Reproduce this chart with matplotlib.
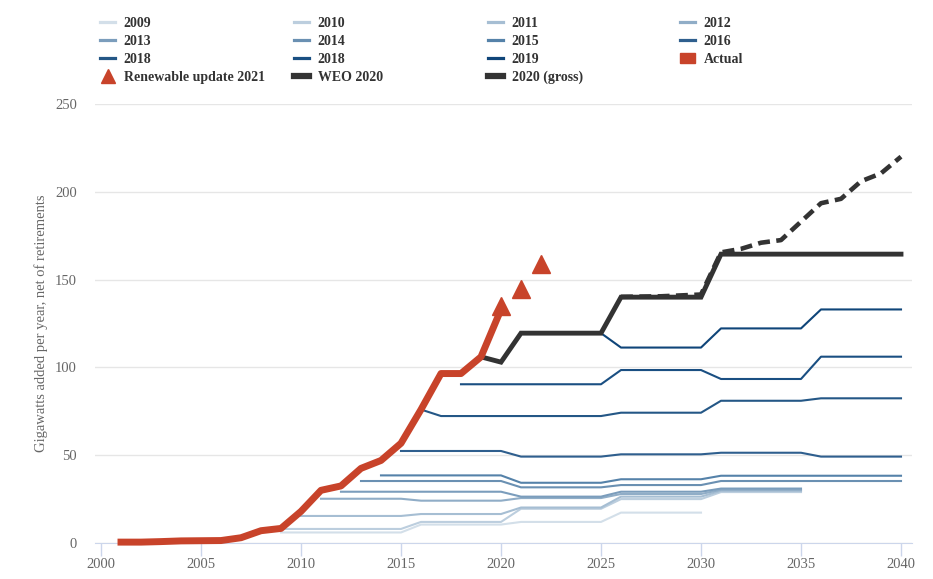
import numpy as np
import matplotlib
matplotlib.use("Agg")
import matplotlib.pyplot as plt
from matplotlib.lines import Line2D
from matplotlib.patches import Patch

plt.rcParams['font.family'] = ['Liberation Serif', 'DejaVu Serif']

# actual additions
years_actual = [2001, 2002, 2003, 2004, 2005, 2006, 2007, 2008, 2009, 2010,
                2011, 2012, 2013, 2014, 2015, 2016, 2017, 2018, 2019, 2020]
actual = [0.5, 0.5, 0.8, 1.2, 1.3, 1.4, 3, 7, 8.3, 18,
          30, 32.5, 42.5, 47, 56.8, 76, 96.5, 96.5, 106, 133]

# renewable update 2021
years_update = [2020, 2021, 2022]
update = [135, 144.6, 159]

# WEO 2020 and gross
years_weo = [2019, 2020, 2021, 2025, 2026, 2030, 2031, 2040]
weo2020 = [106, 103, 119.5, 119.5, 140, 140, 164.5, 164.5]
years_gross = [2026, 2028, 2029, 2030, 2031, 2032, 2033, 2034, 2035, 2036, 2037, 2038, 2039, 2040]
gross = [140.2, 140.5, 141, 141.5, 165.5, 167.5, 171, 172.5, 183, 193.5, 196, 206, 210.5, 220]

# past WEO projections
labels_proj = ['2009', '2010', '2011', '2012', '2013', '2014', '2015', '2016', '2018', '2018', '2019']
years_proj = [
    [2009, 2015, 2016, 2020, 2021, 2025, 2026, 2030],
    [2009, 2015, 2016, 2020, 2021, 2025, 2026, 2030, 2031, 2035],
    [2010, 2015, 2016, 2020, 2021, 2025, 2026, 2030, 2031, 2035],
    [2011, 2015, 2016, 2020, 2021, 2025, 2026, 2030, 2031, 2035],
    [2012, 2020, 2021, 2025, 2026, 2030, 2031, 2035],
    [2013, 2020, 2021, 2025, 2026, 2030, 2031, 2040],
    [2014, 2020, 2021, 2025, 2026, 2030, 2031, 2040],
    [2015, 2020, 2021, 2025, 2026, 2030, 2031, 2035, 2036, 2040],
    [2016, 2017, 2025, 2026, 2030, 2031, 2035, 2036, 2040],
    [2018, 2025, 2026, 2030, 2031, 2035, 2036, 2040],
    [2021, 2025, 2026, 2030, 2031, 2035, 2036, 2040],
]
vals_proj = [
    [6, 6, 10.5, 10.5, 12, 12, 17.3, 17.3],
    [8, 8, 12, 12, 19.5, 19.5, 25, 25, 29, 29],
    [15.4, 15.4, 16.5, 16.5, 20.2, 20.2, 26.4, 26.4, 29.7, 29.7],
    [25.2, 25.2, 24.1, 24.1, 25.6, 25.6, 27.9, 27.9, 30.3, 30.3],
    [29.2, 29.2, 26.4, 26.4, 29.2, 29.2, 31, 31],
    [35.3, 35.3, 31.7, 31.7, 33, 33, 35.3, 35.3],
    [38.5, 38.5, 34.3, 34.3, 36.3, 36.3, 38.3, 38.3],
    [52.4, 52.4, 49.2, 49.2, 50.5, 50.5, 51.4, 51.4, 49.2, 49.2],
    [76, 72.3, 72.3, 74.2, 74.2, 81, 81, 82.4, 82.4],
    [90.4, 90.4, 98.5, 98.5, 93.4, 93.4, 106.1, 106.1],
    [119.5, 119.5, 111.3, 111.3, 122.2, 122.2, 133, 133],
]
colors_proj = ['#d3dfe9', '#bccede', '#a6bed3', '#90adc7', '#7b9dbc', '#6a90b2',
               '#5582a9', '#2f5f8e', '#245786', '#1a4f82', '#0f4579']

red = '#c8432a'
dark = '#333333'
gray = '#666666'

fig = plt.figure(figsize=(9.33, 5.79), dpi=100)
ax = fig.add_axes([95/933, 1-543/579, (912-95)/933, (543-104)/579])

for i in range(len(labels_proj)):
    ax.plot(years_proj[i], vals_proj[i], color=colors_proj[i], lw=1.5, zorder=2)

ax.plot(years_gross, gross, color=dark, lw=3.3, ls=(0, (2.6, 1.4)), zorder=3)
ax.plot(years_weo, weo2020, color=dark, lw=3.5, zorder=4, solid_joinstyle='miter')
ax.plot(years_actual, actual, color=red, lw=5, zorder=5, clip_on=False)
ax.plot(years_update, update, ls='none', marker='^', ms=13.5, color=red, zorder=6)

ax.set_xlim(2000 - 6/20, 2040 + 11/20)
ax.set_ylim(0, 250)
ax.set_xticks(range(2000, 2041, 5))
ax.set_yticks(range(0, 251, 50))
ax.grid(axis='y', color='#e6e6e6', lw=1)
ax.set_axisbelow(True)
for s in ['top', 'right', 'left']:
    ax.spines[s].set_visible(False)
ax.spines['bottom'].set_color('#ccd6eb')
ax.tick_params(axis='x', colors='#ccd6eb', length=9, width=1, labelcolor=gray, labelsize=10.5, pad=2)
ax.tick_params(axis='y', length=0, labelcolor=gray, labelsize=10.5, pad=13)
ax.set_ylabel('Gigawatts added per year, net of retirements', color=gray, fontsize=10.5, labelpad=5)

# legend in four columns
col_x = [100, 294, 488, 680]
handles = [Line2D([], [], color=c, lw=2.3) for c in colors_proj]
labels = list(labels_proj)
handles += [Patch(color=red), Line2D([], [], marker='^', ls='none', color=red, ms=10),
            Line2D([], [], color=dark, lw=4.5), Line2D([], [], color=dark, lw=4.5)]
labels += ['Actual', 'Renewable update 2021', 'WEO 2020', '2020 (gross)']
order = [[0, 4, 8, 12], [1, 5, 9, 13], [2, 6, 10, 14], [3, 7, 11]]
for j, idx in enumerate(order):
    leg = fig.legend([handles[k] for k in idx], [labels[k] for k in idx],
                     loc='upper left', bbox_to_anchor=(col_x[j]/933, 1-17/579),
                     frameon=False, borderpad=0, borderaxespad=0,
                     handlelength=1.1, handletextpad=0.6, labelspacing=0.36,
                     prop={'weight': 'bold', 'size': 10})
    for t in leg.get_texts():
        t.set_color(dark)

fig.savefig('out.png', dpi=100)
